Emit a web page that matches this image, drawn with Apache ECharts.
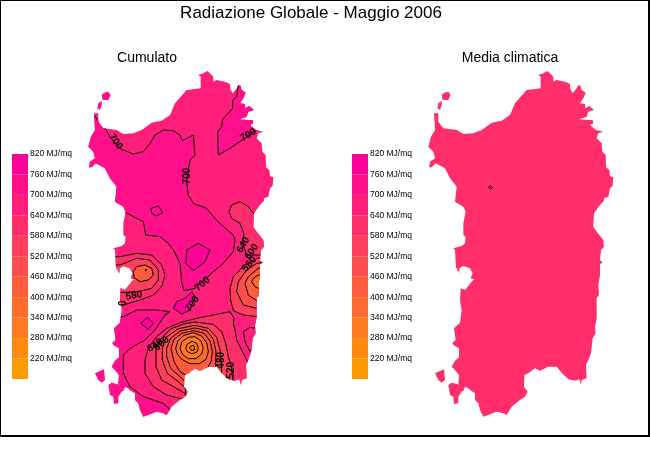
<!DOCTYPE html>
<html>
<head>
<meta charset="utf-8">
<script src="https://cdn.jsdelivr.net/npm/echarts@6/dist/echarts.min.js"></script>
<style>
html, body { margin: 0; padding: 0; background: #fff; }
#mychart { width: 650px; height: 450px; }
</style>
</head>
<body>
<div id="mychart"></div>
<script>
// legend
var legendTicks = [820, 760, 700, 640, 580, 520, 460, 400, 340, 280, 220];
var legendFloor = 160;
var bandColors = ['#ff0099', '#ff0f8a', '#ff1f7a', '#ff2e6b', '#ff3d5c', '#ff4d4d', '#ff5c3d', '#ff6b2e', '#ff7a1f', '#ff8a0f', '#ff9900'];

// coast, map units
var sardegna = [[320,30],[340,28],[362,25],[362,-10],[355,-15],[370,-20],[382,-27],[390,-20],[400,-10],[400,5],[410,0],[435,5],[450,12],[450,25],[458,40],[470,25],[475,15],[482,18],[485,30],[497,38],[490,55],[480,70],[495,72],[495,85],[508,78],[522,90],[505,95],[500,110],[478,118],[500,120],[518,120],[520,130],[510,135],[528,150],[550,155],[535,160],[530,175],[545,190],[547,215],[557,225],[558,262],[568,270],[570,288],[580,292],[578,318],[570,325],[565,350],[552,355],[552,362],[540,375],[522,400],[520,440],[530,455],[550,480],[552,500],[543,510],[540,540],[548,548],[540,552],[540,585],[535,615],[537,645],[530,655],[530,715],[525,740],[527,760],[518,775],[513,820],[505,840],[498,855],[500,895],[485,900],[483,915],[478,898],[465,902],[445,898],[425,878],[410,860],[385,860],[360,872],[345,865],[325,880],[313,885],[312,920],[323,935],[315,950],[300,960],[275,980],[260,1005],[250,1000],[230,995],[190,1010],[180,990],[175,970],[165,960],[165,940],[150,930],[145,925],[135,920],[130,932],[122,935],[115,910],[117,885],[100,865],[95,860],[105,842],[117,832],[117,805],[100,795],[97,788],[107,780],[102,745],[120,728],[125,690],[120,660],[122,625],[135,630],[155,605],[162,598],[152,595],[158,580],[150,565],[130,558],[118,565],[118,580],[108,562],[105,510],[100,505],[125,498],[135,490],[137,470],[130,465],[130,430],[137,395],[130,380],[105,365],[110,320],[90,295],[75,265],[47,250],[35,262],[27,262],[30,245],[45,235],[40,215],[25,200],[33,170],[45,150],[42,100],[55,100],[55,125],[70,145],[110,150],[130,162],[160,160],[185,150],[215,128],[245,122],[270,105],[285,70]];
var asinaraA = [[65,45],[72,38],[85,35],[92,45],[85,60],[68,60]];
var asinaraB = [[52,85],[55,70],[65,63],[65,75],[60,90]];
var sanPietro = [[45,880],[72,868],[75,900],[65,908],[55,900]];
var santAntioco = [[85,915],[95,908],[122,915],[125,935],[115,950],[115,970],[102,972],[100,950],[90,945]];
var islands = [asinaraA, asinaraB, sanPietro, santAntioco];

// contours of the left map
var centre700 = [[75,145],[90,170],[105,190],[125,208],[160,222],[190,215],[210,190],[225,165],[250,150],[280,152],[300,165],[307,182],[340,165],[345,225],[330,240],[325,270],[320,305],[325,345],[340,370],[380,385],[400,410],[425,435],[460,465],[465,480],[460,515],[425,555],[400,575],[345,625],[312,632],[305,605],[300,550],[280,510],[265,490],[240,470],[197,465],[190,425],[160,410],[133,395],[0,380],[0,90],[30,90],[55,122]];
var gallura700 = [[478,-10],[470,50],[458,60],[458,85],[428,118],[425,140],[413,155],[415,225],[450,205],[487,180],[530,150],[620,130],[620,-40]];
var sulcis700 = [[0,710],[130,710],[170,690],[230,690],[270,695],[255,705],[225,750],[195,780],[150,805],[130,825],[130,880],[150,920],[190,950],[250,970],[272,990],[290,1020],[0,1020]];
var pocket700 = [[290,665],[280,685],[305,702],[330,690],[345,650],[335,635],[315,655]];
var closedNorth = [[213,385],[235,378],[248,398],[230,408],[215,400]];
var closedCentre = [[320,510],[355,490],[390,510],[375,545],[340,572],[318,550]];
var closedSouth = [[182,730],[203,712],[220,730],[205,748]];
var closedEast = [[620,745],[530,745],[510,742],[490,755],[495,785],[510,815],[530,790],[620,790]];
var eastShoulder = [[620,400],[520,400],[505,380],[480,365],[455,375],[447,395],[455,415],[480,430],[492,460],[488,490],[500,525],[620,525]];
var west1 = [[60,530],[120,530],[170,520],[215,525],[245,555],[255,585],[245,620],[220,645],[180,660],[130,675],[60,675]];
var west2 = [[60,555],[120,555],[170,535],[210,540],[235,570],[235,600],[215,625],[175,635],[60,640]];
var west3 = [[160,575],[170,560],[195,555],[215,565],[220,585],[205,600],[180,605],[162,592]];
var westDot = [[196,569],[199,569],[199,572],[196,572]];
var east1 = [[620,520],[532,535],[495,555],[460,590],[450,625],[452,660],[460,692],[490,705],[620,720]];
var east2 = [[620,540],[530,550],[500,570],[475,605],[470,635],[490,675],[530,685],[620,695]];
var east3 = [[620,560],[535,565],[505,590],[495,610],[505,645],[535,665],[620,670]];
var east4 = [[620,585],[535,585],[520,595],[515,605],[525,620],[535,625],[620,630]];
var south1 = [[620,850],[505,850],[490,820],[470,780],[465,750],[460,730],[462,715],[450,695],[400,705],[350,715],[300,728],[260,745],[230,770],[205,805],[195,840],[195,880],[220,920],[260,945],[325,962],[340,1020],[620,1020]];
var south2 = [[240,780],[270,748],[310,732],[345,726],[400,733],[425,755],[437,790],[445,830],[455,865],[460,910],[460,1000],[340,1000],[322,945],[290,925],[245,900],[228,860],[228,810]];
var south3 = [[247,805],[258,772],[295,746],[345,736],[385,745],[410,772],[420,810],[423,840],[425,880],[425,1000],[330,1000],[318,925],[295,905],[262,880],[247,840]];
var south4 = [[260,805],[272,775],[300,753],[345,744],[380,752],[400,778],[408,815],[407,850],[405,1000],[320,1000],[315,905],[300,890],[272,865],[260,830]];
var south5 = [[273,805],[282,778],[305,760],[340,752],[372,760],[390,783],[397,815],[393,845],[385,858],[385,900],[345,900],[325,890],[300,875],[282,845]];
var south6 = [[287,805],[294,782],[312,766],[340,758],[365,768],[380,788],[385,815],[378,838],[358,851],[330,851],[305,838],[292,822]];
var south7 = [[300,805],[306,785],[325,772],[345,770],[362,782],[370,803],[365,822],[348,836],[325,836],[308,824]];
var south8 = [[317,805],[322,792],[336,784],[350,790],[355,805],[350,817],[335,821],[322,815]];
var south9 = [[328,802],[340,795],[345,808],[335,812]];
var climaticaMark = [[205,322],[212,318],[218,323],[212,327]];

// value inside each contour, same order as contourShapes
var contourShapes = [centre700, gallura700, sulcis700, pocket700, closedNorth, closedCentre, closedSouth, closedEast, eastShoulder, west1, west2, west3, westDot, east1, east2, east3, east4, south1, south2, south3, south4, south5, south6, south7, south8, south9];
var contourValues = [730, 730, 730, 770, 730, 790, 770, 690, 620, 610, 530, 430, 430, 560, 500, 430, 380, 620, 570, 510, 470, 440, 390, 340, 330, 300];

// contour labels
var labelTexts = ['700', '700', '700', '700', '700', '580', '0', '640', '600', '480', '520', '640', '600', '560'];
var labelX = [107, 505, 323, 367, 337, 162, 130, 225, 245, 423, 455, 490, 515, 508];
var labelY = [185, 165, 288, 612, 672, 647, 670, 796, 791, 841, 871, 495, 515, 552];
var labelAngles = [-55, 30, 90, 40, 55, 10, 90, 35, 40, 90, 90, 60, 55, 50];

function colorOf(v) {
    var i = Math.floor((legendTicks[0] - v) / 60);
    return bandColors[Math.max(0, Math.min(bandColors.length - 1, i))];
}

function toPoints(api, shape) {
    return shape.map(function (p) {
        return api.coord(p);
    });
}

// filled polygons, clipped on the main coast when clip is true
function polygonSeries(axisIndex, shapes, fills, strokes, clip) {
    return {
        type: 'custom',
        xAxisIndex: axisIndex,
        yAxisIndex: axisIndex,
        silent: true,
        animation: false,
        clip: false,
        data: shapes.map(function (s, i) { return [i]; }),
        encode: {x: [], y: []},
        renderItem: function (params, api) {
            var i = params.dataIndex;
            var el = {
                type: 'polygon',
                shape: {points: toPoints(api, shapes[i])},
                style: {fill: fills[i], stroke: strokes ? '#000' : null, lineWidth: 1}
            };
            if (clip) {
                el.clipPath = {type: 'polygon', shape: {points: toPoints(api, sardegna)}};
            }
            return el;
        }
    };
}

function legendSeries(axisIndex) {
    return {
        type: 'custom',
        xAxisIndex: axisIndex,
        yAxisIndex: axisIndex,
        silent: true,
        animation: false,
        data: legendTicks,
        encode: {y: 0},
        renderItem: function (params, api) {
            var i = params.dataIndex;
            var top = api.coord([0, legendTicks[i]]);
            var low = i + 1 < legendTicks.length ? legendTicks[i + 1] : legendFloor;
            var bottom = api.coord([1, low]);
            return {
                type: 'rect',
                shape: {x: top[0], y: top[1], width: bottom[0] - top[0], height: bottom[1] - top[1]},
                style: {fill: bandColors[i]}
            };
        }
    };
}

var mapGrid = {top: 60, width: 210, height: 360};
var mapX = {type: 'value', min: 0, max: 630, show: false};
var mapY = {type: 'value', min: -60, max: 1020, inverse: true, show: false};
var legX = {type: 'value', min: 0, max: 1, show: false};
var legY = {
    type: 'value',
    min: legendFloor,
    max: legendTicks[0],
    interval: 60,
    position: 'right',
    splitLine: {show: false},
    axisLine: {show: false},
    axisTick: {show: false},
    axisLabel: {
        margin: 2,
        fontFamily: 'Liberation Sans',
        fontSize: 8.5,
        color: '#000',
        formatter: function (v) {
            return v === legendFloor ? '' : v + ' MJ/mq';
        }
    }
};

function fillsOf(shapes, color) {
    return shapes.map(function () { return color; });
}

var option = {
    backgroundColor: '#fff',
    title: [
        {text: 'Radiazione Globale - Maggio 2006', left: 311, top: 5, padding: 0, textAlign: 'center',
            textStyle: {fontFamily: 'Liberation Sans', fontSize: 17, fontWeight: 'normal', color: '#000'}},
        {text: 'Cumulato', left: 147, top: 51, padding: 0, textAlign: 'center',
            textStyle: {fontFamily: 'Liberation Sans', fontSize: 14, fontWeight: 'normal', color: '#000'}},
        {text: 'Media climatica', left: 510, top: 51, padding: 0, textAlign: 'center',
            textStyle: {fontFamily: 'Liberation Sans', fontSize: 14, fontWeight: 'normal', color: '#000'}}
    ],
    grid: [
        Object.assign({left: 80}, mapGrid),
        Object.assign({left: 420}, mapGrid),
        {left: 12, top: 154, width: 16, height: 225},
        {left: 352, top: 154, width: 16, height: 225}
    ],
    xAxis: [
        Object.assign({gridIndex: 0}, mapX),
        Object.assign({gridIndex: 1}, mapX),
        Object.assign({gridIndex: 2}, legX),
        Object.assign({gridIndex: 3}, legX)
    ],
    yAxis: [
        Object.assign({gridIndex: 0}, mapY),
        Object.assign({gridIndex: 1}, mapY),
        Object.assign({gridIndex: 2}, legY),
        Object.assign({gridIndex: 3}, legY)
    ],
    graphic: [{
        type: 'rect',
        silent: true,
        z: 100,
        shape: {x: 0, y: 0, width: 649, height: 436},
        style: {fill: 'none', stroke: '#000', lineWidth: 2}
    }],
    series: [
        // left map
        polygonSeries(0, [sardegna], [bandColors[2]], false, false),
        polygonSeries(0, islands, fillsOf(islands, bandColors[1]), false, false),
        polygonSeries(0, contourShapes, contourValues.map(colorOf), true, true),
        {
            type: 'custom',
            xAxisIndex: 0,
            yAxisIndex: 0,
            silent: true,
            animation: false,
            clip: false,
            data: labelTexts.map(function (t, i) { return [labelX[i], labelY[i]]; }),
            renderItem: function (params, api) {
                var i = params.dataIndex;
                var c = api.coord([labelX[i], labelY[i]]);
                return {
                    type: 'text',
                    x: c[0],
                    y: c[1],
                    rotation: labelAngles[i] * Math.PI / 180,
                    style: {
                        text: labelTexts[i],
                        fontFamily: 'Liberation Sans',
                        fontSize: 10,
                        fontWeight: 'bold',
                        fill: '#000',
                        align: 'center',
                        verticalAlign: 'middle'
                    }
                };
            }
        },
        // right map
        polygonSeries(1, [sardegna], [bandColors[3]], false, false),
        polygonSeries(1, islands, fillsOf(islands, bandColors[3]), false, false),
        polygonSeries(1, [climaticaMark], [bandColors[3]], true, false),
        // legends
        legendSeries(2),
        legendSeries(3)
    ]
};

var mychart = echarts.init(document.getElementById('mychart'), null, {renderer: 'canvas'});
mychart.setOption(option);
</script>
</body>
</html>
